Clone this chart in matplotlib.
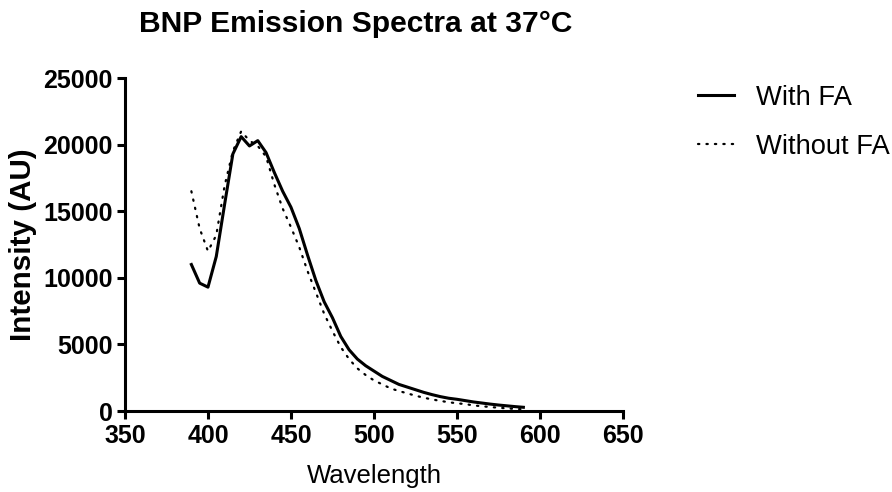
import matplotlib
matplotlib.use('Agg')
import matplotlib.pyplot as plt
import numpy as np

plt.rcParams['font.family'] = ['Liberation Sans', 'DejaVu Sans']

# emission spectra, 5 nm steps
wavelength = np.arange(390, 595, 5)
with_fa = [11000, 9600, 9300, 11600, 15500, 19300, 20600, 19900, 20300, 19400,
           17900, 16500, 15300, 13700, 11700, 9800, 8200, 7000, 5600, 4600,
           3900, 3400, 3000, 2600, 2300, 2000, 1800, 1600, 1400, 1230,
           1080, 960, 880, 780, 680, 600, 520, 450, 390, 330, 280]
without_fa = [16500, 13700, 12000, 13200, 16900, 19500, 21000, 20300, 19900, 19100,
              17000, 15200, 13800, 12300, 10500, 8900, 7300, 6000, 4800, 3900,
              3200, 2700, 2300, 2000, 1700, 1500, 1330, 1150, 1000, 870,
              760, 660, 580, 520, 420, 360, 300, 250, 200, 160, 130]

fig = plt.figure(figsize=(8.92, 4.92), dpi=100)
ax = fig.add_axes([0.1401, 0.1646, 0.5583, 0.6768])

ax.plot(wavelength, with_fa, color='black', lw=2.2, label='With FA')
ax.plot(wavelength, without_fa, color='black', lw=1.6,
        linestyle=(0, (0.6, 3.2)), dash_capstyle='round', label='Without FA')

ax.set_xlim(350, 650)
ax.set_ylim(0, 25000)
ax.set_xticks(range(350, 651, 50))
ax.set_yticks(range(0, 25001, 5000))

for side in ['top', 'right']:
    ax.spines[side].set_visible(False)
for side in ['left', 'bottom']:
    ax.spines[side].set_linewidth(2.2)
ax.tick_params(width=2.2, length=6, labelsize=18, pad=3)
for lab in ax.get_xticklabels() + ax.get_yticklabels():
    lab.set_fontweight('bold')

ax.set_xlabel('Wavelength', fontsize=18.5, labelpad=12)
ax.set_ylabel('Intensity (AU)', fontsize=21.3, fontweight='bold', labelpad=4)

fig.text(0.399, 0.951, 'BNP Emission Spectra at 37°C', fontsize=21.6,
         fontweight='bold', ha='center', va='center')

fig.legend(loc='upper left', bbox_to_anchor=(0.782, 0.828), frameon=False,
           fontsize=19.7, handlelength=1.35, handletextpad=0.8, labelspacing=0.85,
           borderpad=0, borderaxespad=0)

fig.savefig('out.png', dpi=100)
